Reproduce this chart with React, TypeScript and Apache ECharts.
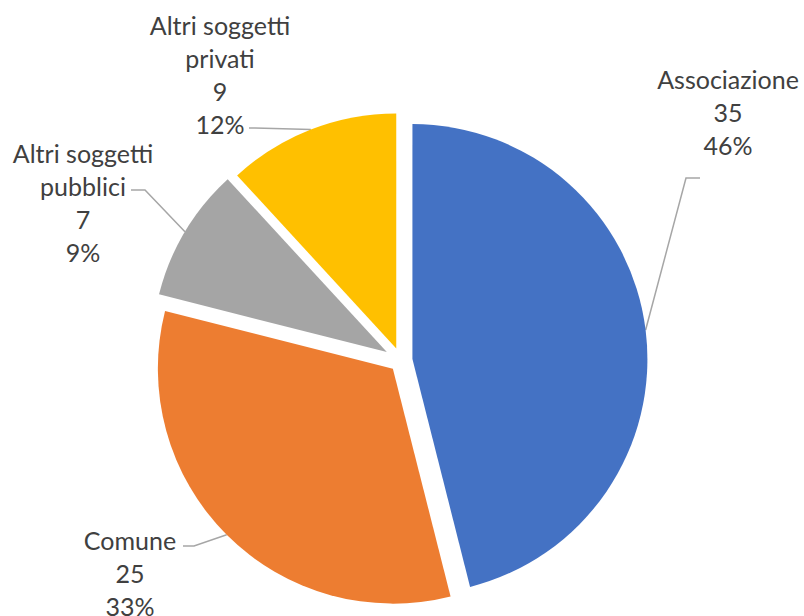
import React, { useEffect, useRef } from 'react';
import * as echarts from 'echarts';

const categories = ['Associazione', 'Comune', 'Altri soggetti pubblici', 'Altri soggetti privati'];
const values = [35, 25, 7, 9];
const colors = ['#4472C4', '#ED7D31', '#A5A5A5', '#FFC000'];

// layout
const CX = 401;
const CY = 360.5;
const R = 235;
const explode = [11.5, 11.5, 16.5, 13];
const labelPos = [
  { x: 728, y: 62, line: [[686, 178], [700, 178]] },
  { x: 130, y: 523, line: [[194, 546], [183, 546]] },
  { x: 83, y: 136, line: [[145, 190], [131, 190]] },
  { x: 220, y: 8, line: [[255, 128], [249, 128]] },
];

export default function App() {
  const ref = useRef<HTMLDivElement>(null);
  useEffect(() => {
    if (!ref.current) return;
    const chart = echarts.init(ref.current, undefined, { renderer: 'svg' });
    const total = values.reduce((a, b) => a + b, 0);
    let cum = 0;
    const mids = values.map((v) => {
      const s = (cum / total) * 360;
      cum += v;
      const e = (cum / total) * 360;
      return (((s + e) / 2) * Math.PI) / 180;
    });
    const series = categories.map((_, k) => {
      const m = mids[k];
      const c = [CX + explode[k] * Math.sin(m), CY - explode[k] * Math.cos(m)];
      const edge = [c[0] + R * Math.sin(m), c[1] - R * Math.cos(m)];
      return {
        type: 'pie',
        center: c,
        radius: R,
        startAngle: 90,
        clockwise: true,
        percentPrecision: 0,
        silent: true,
        emphasis: { disabled: true },
        data: categories.map((name, i) => ({
          name,
          value: values[i],
          itemStyle: { color: i === k ? colors[i] : 'rgba(0,0,0,0)' },
          label: { show: i === k },
          labelLine: { show: i === k },
        })),
        label: {
          position: 'outside',
          overflow: 'none',
          fontFamily: 'Lato',
          fontSize: 25,
          lineHeight: 33,
          color: '#404040',
          formatter: (p: any) => `${String(p.name).replace('soggetti ', 'soggetti\n')}\n${p.value}\n${p.percent}%`,
        },
        labelLine: {
          show: true,
          length: 10,
          length2: 10,
          lineStyle: { color: '#A6A6A6', width: 1.5 },
        },
        labelLayout: (params: any) => {
          if (params.dataIndex !== k) return {};
          const lp = labelPos[k];
          return {
            x: lp.x,
            y: lp.y,
            align: 'center',
            verticalAlign: 'top',
            labelLinePoints: [edge, lp.line[0], lp.line[1]],
          };
        },
      };
    });
    chart.setOption({ animation: false, series } as any);
    return () => chart.dispose();
  }, []);
  return <div ref={ref} style={{ position: 'absolute', left: 0, top: 0, width: 804, height: 616 }} />;
}
